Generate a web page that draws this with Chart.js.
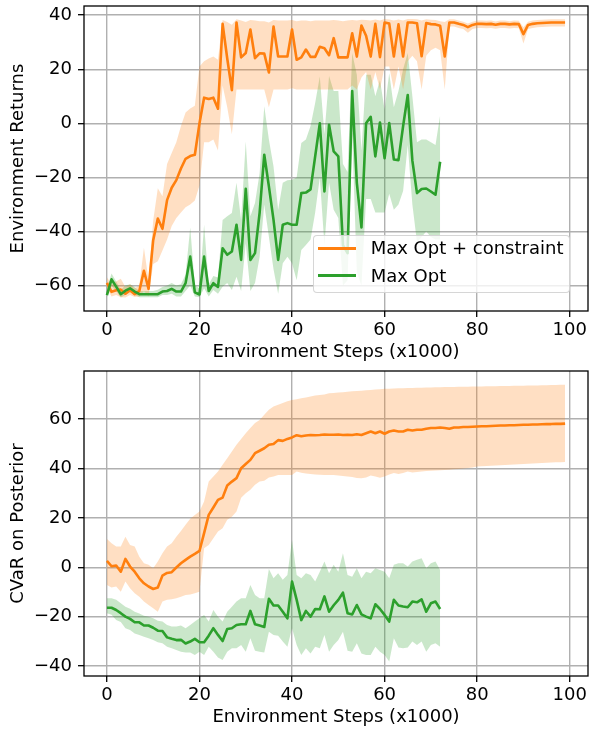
<!DOCTYPE html>
<html>
<head>
<meta charset="utf-8">
<script src="https://cdn.jsdelivr.net/npm/chart.js@4.4.1/dist/chart.umd.min.js"></script>
<style>
  html, body { margin: 0; padding: 0; background: #fff; }
  #wrap { position: relative; width: 589px; height: 732px; overflow: hidden;
          font-family: "DejaVu Sans", sans-serif; }
  .panel { position: absolute; left: 0; width: 589px; height: 366px; }
  .lg-frame { position: absolute; left: 312.5px; top: 235px; width: 257.5px; height: 57.5px;
              box-sizing: border-box; background: rgba(255,255,255,0.8);
              border: 1.4px solid rgba(204,204,204,0.8); border-radius: 4px; }
  .lg-line { position: absolute; left: 318.3px; width: 37.7px; height: 2.7px; }
  .lg-text { position: absolute; left: 370.7px; font-size: 18px; line-height: 22px;
             color: #000; white-space: nowrap; }
</style>
</head>
<body>
<div id="wrap">
  <div class="panel" style="top:0"><canvas id="returns" width="589" height="366"></canvas></div>
  <div class="panel" style="top:365px"><canvas id="cvar" width="589" height="366"></canvas></div>
  <div class="lg-frame"></div>
  <div class="lg-line" style="top:247px;background:#ff7f0e"></div>
  <div class="lg-text" style="top:237.3px">Max Opt + constraint</div>
  <div class="lg-line" style="top:274.4px;background:#2ca02c"></div>
  <div class="lg-text" style="top:264.7px">Max Opt</div>
</div>
<script>
// Training steps (x1000) at which each run was evaluated
const stepsK = [0,1,2,3,4,5,6,7,8,9,10,11,12,13,14,15,16,17,18,19,
  20,21,22,23,24,25,26,27,28,29,30,31,32,33,34,35,36,37,38,39,
  40,41,42,43,44,45,46,47,48,49,50,51,52,53,54,55,56,57,58,59,
  60,61,62,63,64,65,66,67,68,69,70,71,72,73,74,75,76,77,78,79,
  80,81,82,83,84,85,86,87,88,89,90,91,92,93,94,95,96,97,98,99];

const seriesNames = ['Max Opt + constraint', 'Max Opt'];
const xTicks = [0, 20, 40, 60, 80, 100];
const returnsTicks = [-60, -40, -20, 0, 20, 40];
const cvarTicks = [-40, -20, 0, 20, 40, 60];

// Environment returns: Max Opt + constraint
const retConstrMean = [-59, -62.3, -61.7, -61.5, -63, -61.7, -63.2, -62, -54.5, -61.2,
  -43.2, -35.2, -39, -28.4, -23.8, -21, -16.7, -13.1, -12.1, -11.6,
  0, 9.5, 9, 9.5, 5.4, 36.8, 24, 12.3, 37.3, 24.4,
  26, 34.7, 24.1, 25.9, 25.8, 18.8, 35.8, 24.7, 24.7, 24.7,
  34.7, 23.5, 24.4, 27.3, 24.6, 24.6, 28.3, 27.8, 25.2, 31.5,
  24.4, 24.4, 24.4, 33.3, 24.7, 36.2, 32.4, 24.7, 36.8, 24.5,
  37.3, 36.9, 24.7, 36.6, 24.7, 37.3, 37.3, 37, 24.8, 37.1,
  36.7, 36.6, 36.1, 24.7, 37.3, 37.3, 36.8, 36.4, 35.6, 36.4,
  36.8, 36.8, 36.7, 36.8, 36.5, 36.8, 36.8, 36.6, 36.8, 36.7,
  33, 36.4, 36.8, 37, 37.1, 37.2, 37.3, 37.3, 37.3, 37.3];
const retConstrHigh = [-57, -59.5, -58.5, -57.5, -60.5, -59.5, -61, -60, -46, -58,
  -36, -24, -27, -15, -11, -7, -1, 4, 5.5, 6.5,
  21, 23, 24, 24.7, 23.5, 38.2, 37.5, 36.5, 38.5, 38,
  37.5, 38.2, 38, 37.8, 37.8, 37.3, 38.2, 38, 38, 38,
  38.2, 37.8, 38, 38, 37.8, 38, 38, 38, 38, 38.2,
  38, 37.8, 38, 38.2, 38, 38.3, 38.2, 38, 38.4, 38,
  38.6, 38.4, 38, 38.4, 38, 38.6, 38.6, 38.5, 38, 38.5,
  38.3, 38.2, 37.8, 37.5, 38.5, 38.5, 38, 37.6, 36.9, 37.6,
  38, 38, 37.9, 38, 37.7, 38, 38, 37.8, 38, 37.9,
  35.5, 37.6, 38, 38.2, 38.3, 38.4, 38.5, 38.5, 38.5, 38.5];
const retConstrLow = [-61, -64, -63.5, -64.3, -64.4, -63.5, -64.2, -64, -62, -64,
  -52, -51, -47, -43, -38, -35, -33, -31, -30, -28.5,
  -23, -7, -7, -6, -10, 14, 6, -4, 12.5, 12.5,
  12.5, 12.5, 12.5, 12.5, 12.5, 6, 12.5, 12.5, 12.5, 12.5,
  13, 12.5, 12.5, 12.5, 12.5, 12.5, 12.5, 12.5, 12.5, 12.5,
  12.5, 12.5, 12.5, 14, 12.5, 17, 19, 12.5, 19, 12.5,
  21, 21, 12.5, 21, 12.5, 23, 25, 23, 12.5, 25,
  27, 28, 27, 12.5, 35.8, 35.8, 35.3, 34.9, 33.5, 34.9,
  35.3, 35.3, 35.2, 35.3, 35, 35.3, 35.3, 35.1, 35.3, 35.2,
  29.5, 34.9, 35.3, 35.5, 35.6, 35.7, 35.8, 35.8, 35.8, 35.8];

// Environment returns: Max Opt
const retMaxMean = [-63.5, -57.7, -60.4, -63.2, -61.9, -61, -62.2, -63.2, -63.2, -63.2,
  -63.2, -63.2, -62.2, -62, -61.2, -62.2, -62.2, -59.1, -49.3, -62.5,
  -63.3, -49.3, -62, -59.1, -60.5, -46.2, -48.6, -47.4, -37.5, -50.5,
  -24.2, -50.5, -48, -33, -11.6, -23.3, -35.7, -50.5, -37.5, -36.9,
  -37.5, -37.5, -25.8, -25.6, -24.4, -12.2, 0, -25.2, -0.5, -10.4,
  -12.2, -45, -48, 11.9, -22, -38.5, 0, 2.4, -12.2, 0.3,
  -12.9, 0.1, -13.4, -13.6, -1, 10.5, -13.8, -25.8, -24.3, -24.1,
  -25.2, -26.4, -14.2];
const retMaxHigh = [-61, -55.5, -58.5, -61.5, -60, -59.5, -60.5, -62, -62, -62,
  -62, -61.5, -60.5, -60, -59, -60, -59.5, -56, -38.5, -60,
  -61, -37.5, -59.5, -56.5, -57, -35.7, -34.4, -33.2, -22, -35.7,
  -6.7, -34.4, -29.5, -18.4, 6.3, -6, -16, -32, -22, -21,
  -20.9, -20, -7.3, -6, -1, 7.5, 17.3, -4, 17.5, 12,
  12, -15, -18, 26, 18, -10, 18, 18, 10, 16,
  5, 18.5, 6, 12, 20, 26, 10, -7, -6, -6,
  -7, -8, 3];
const retMaxLow = [-64.3, -60, -62, -64.4, -63.5, -62.5, -63.5, -64.3, -64.3, -64.3,
  -64.3, -64.3, -63.5, -63.5, -63, -64, -64, -62, -60, -64,
  -64.3, -61, -64, -61.6, -63, -60.4, -59, -61.6, -56.7, -62,
  -44.3, -62, -59, -49.3, -30, -41.9, -54, -63, -51.7, -49.3,
  -51.7, -58, -46.8, -45, -43, -33, -20, -45, -22, -32,
  -35, -60, -58, -4, -55, -60, -28, -28, -33, -33,
  -33, -26, -32, -30, -25, -8, -30, -44, -42, -40,
  -42, -43, -43];

// CVaR on posterior: Max Opt + constraint
const cvarConstrMean = [2.6, 0.4, 0.7, -1.8, 3.4, 0.3, -1.8, -4.5, -6.5, -7.8,
  -8.8, -8.2, -3.4, -2.3, -2, -0.1, 1.6, 3, 4.3, 5.4,
  6.6, 13.8, 21.2, 24.2, 27.3, 28.2, 33.1, 34.7, 36.1, 40.1,
  41.8, 43.5, 46.2, 47.2, 48.2, 49.6, 49.9, 51.5, 51.2, 52,
  52.6, 53.5, 53.1, 53.4, 53.6, 53.5, 53.6, 53.8, 53.7, 53.7,
  53.8, 53.6, 53.7, 53.6, 53.9, 53.6, 54.3, 55, 54.3, 55,
  54.1, 55, 55.4, 55, 55, 55.7, 55.4, 55.7, 55.7, 56.1,
  56.4, 56.4, 56.6, 56.4, 56.1, 56.6, 56.6, 56.8, 56.8, 56.9,
  57, 57.1, 57.1, 57.2, 57.3, 57.4, 57.4, 57.5, 57.5, 57.6,
  57.7, 57.7, 57.8, 57.8, 57.9, 58, 58, 58.1, 58.1, 58.2];
const cvarConstrHigh = [11.5, 9.7, 8.4, 8.4, 12.4, 9, 8.4, 4.3, 1.6, 1,
  -0.4, 2.3, 5.7, 8.4, 9.7, 12.4, 14.7, 17.2, 19.6, 21.2,
  22.6, 26.6, 34.7, 36.8, 38.8, 41.5, 44.2, 46.9, 49.6, 52,
  54.3, 56.4, 58.4, 59.7, 61.8, 63.8, 65.1, 65.8, 66.5, 67.2,
  67.8, 68.1, 68.5, 68.8, 69.2, 69.6, 69.8, 70, 70.5, 70.6,
  70.8, 70.9, 71.1, 71.3, 71.4, 71.5, 71.7, 71.8, 72, 72.1,
  72.3, 72.3, 72.4, 72.5, 72.5, 72.6, 72.6, 72.7, 72.7, 72.8,
  72.8, 72.9, 72.9, 73, 73, 73, 73.1, 73.1, 73.1, 73.2,
  73.2, 73.2, 73.3, 73.3, 73.3, 73.4, 73.4, 73.4, 73.5, 73.5,
  73.5, 73.6, 73.6, 73.6, 73.7, 73.7, 73.8, 73.8, 73.9, 73.9];
const cvarConstrLow = [-7.2, -8.2, -7.8, -9.9, -5.8, -8.5, -10.5, -11.9, -13.9, -15.3,
  -16.6, -18, -13.9, -13.2, -13, -12.6, -11.9, -11.2, -11, -10.5,
  -9.9, 7.7, 9, 11.8, 14.5, 15.8, 19.2, 20.5, 22.6, 28.2,
  30, 31.4, 33.4, 34.7, 35, 36.4, 36.8, 37.4, 37.4, 37.4,
  37.4, 38.8, 38.3, 38, 37.8, 37.6, 37.5, 37.4, 37.4, 37.4,
  37.2, 37, 36.8, 36.6, 36.2, 36.1, 36.4, 37.2, 36.8, 36.3,
  36.8, 37.6, 38.2, 37.8, 38.2, 38.8, 38.4, 38.6, 38.8, 39,
  39.1, 39.2, 39.3, 39.4, 39.5, 39.7, 39.8, 40, 40.2, 40.4,
  40.8, 40.9, 41, 41.1, 41.2, 41.3, 41.4, 41.5, 41.6, 41.7,
  41.8, 41.9, 42, 42.1, 42.2, 42.3, 42.4, 42.5, 42.5, 42.6];

// CVaR on posterior: Max Opt
const cvarMaxMean = [-16.4, -16.4, -17.3, -18.6, -20, -20.9, -22.3, -22.3, -23.6, -23.6,
  -24.5, -25.7, -25.8, -28.4, -29, -29.5, -29.4, -30.9, -30.1, -29,
  -30.4, -30.4, -27.7, -24.7, -27.4, -29.9, -25, -24.7, -23.4, -23.1,
  -23.1, -17.7, -23.1, -23.6, -24.2, -12.8, -15.5, -15.5, -18, -20.7,
  -5.8, -13.2, -21.4, -17.7, -20, -16.9, -17, -11.8, -18, -15.4,
  -13.2, -10.3, -18.6, -19.1, -15.3, -19.1, -20, -20.7, -15, -16.9,
  -19.3, -22, -13.2, -15.5, -15.9, -16.2, -13.9, -14.2, -13, -18,
  -14.6, -13.9, -16.9];
const cvarMaxHigh = [-12.6, -12.6, -13.2, -14.6, -16, -16.8, -18, -18.7, -19.6, -20,
  -20.7, -21.7, -22, -23.4, -24, -24, -23.6, -24.7, -23.4, -22,
  -20.7, -19.3, -22, -17.3, -20, -22, -18, -16, -13.9, -12.6,
  -12.6, -7.2, -11.2, -12.6, -12.6, -0.7, -4.5, -2.4, -5.1, -3.1,
  11.1, -3.1, -4.5, -2.4, -3.1, -5.8, -1.8, 2.3, -2.4, 1,
  -1.8, 5.7, -3.1, -3.8, -0.4, -4.5, -1.8, -2.4, -0.4, -1.1,
  -1.8, -4.5, 1, 1.6, 1.6, 0.3, 2.3, 3, 3.6, -0.4,
  1.6, 2.3, -1.1];
const cvarMaxLow = [-18.6, -19.2, -21.4, -22.2, -24.7, -25.4, -26.8, -27.4, -28.1, -28.8,
  -29.5, -30.4, -30.8, -32.2, -32.8, -33.5, -34.2, -34.5, -34.5, -35.5,
  -34.2, -35.5, -32.2, -34.2, -36.6, -37.6, -34.2, -32.8, -32.8, -31.5,
  -34.2, -28.8, -33.8, -34.2, -34.5, -26.1, -27.4, -27.7, -30.1, -32.2,
  -24.7, -31.5, -35.5, -32.8, -34.9, -32.2, -32.8, -27.4, -34.2, -31.5,
  -29.5, -26.1, -33.8, -34.2, -30.8, -34.9, -35.5, -35.5, -32.2, -34.2,
  -35.5, -38.2, -28.8, -32.5, -32.8, -32.5, -30.1, -31.5, -30.1, -34.2,
  -31.5, -30.8, -32.2];

const ORANGE = '#ff7f0e', GREEN = '#2ca02c';
const ORANGE_BAND = 'rgba(255,127,14,0.25)', GREEN_BAND = 'rgba(44,160,44,0.25)';
const FONT = '"DejaVu Sans", sans-serif';

Chart.defaults.font.family = FONT;
Chart.defaults.font.size = 18;
Chart.defaults.color = '#000';

const pts = ys => ys.map((y, i) => ({ x: stepsK[i], y }));
const minusFmt = v => (v < 0 ? '\u2212' + Math.abs(v) : String(v));

// Black box around the plotting area
const framePlugin = {
  id: 'frame',
  afterDatasetsDraw(chart) {
    const { ctx, chartArea: a } = chart;
    ctx.save();
    ctx.strokeStyle = '#000';
    ctx.lineWidth = 1.3;
    ctx.strokeRect(a.left, a.top, a.right - a.left, a.bottom - a.top);
    ctx.restore();
  }
};

// Fixed axis sizes, no extra room reserved for edge labels
const fitX = s => { s.height = 55; s.paddingLeft = 0; s.paddingRight = 0; };
const fitY = s => { s.width = 84; s.paddingTop = 0; s.paddingBottom = 0; };

function bandSets(high, low, color) {
  return [
    { data: pts(high), fill: '+1', backgroundColor: color, borderColor: 'rgba(0,0,0,0)',
      borderWidth: 0, pointRadius: 0, order: 5 },
    { data: pts(low), fill: false, borderColor: 'rgba(0,0,0,0)', borderWidth: 0,
      pointRadius: 0, order: 6 }
  ];
}

function lineSet(label, mean, color, order) {
  return { label, data: pts(mean), borderColor: color, borderWidth: 2.6, pointRadius: 0,
           fill: false, tension: 0, borderJoinStyle: 'round', order };
}

function makeChart(id, yLabel, yMin, yMax, yTicks, series) {
  return new Chart(document.getElementById(id), {
    type: 'line',
    data: {
      datasets: [
        lineSet(seriesNames[0], series[0].mean, ORANGE, 1),
        ...bandSets(series[0].high, series[0].low, ORANGE_BAND),
        lineSet(seriesNames[1], series[1].mean, GREEN, 0),
        ...bandSets(series[1].high, series[1].low, GREEN_BAND)
      ]
    },
    options: {
      responsive: false,
      animation: false,
      events: [],
      layout: { padding: { top: 6, right: 1, bottom: 0, left: 0 } },
      plugins: {
        legend: { display: false },
        tooltip: { enabled: false },
        filler: { drawTime: 'beforeDatasetsDraw', propagate: false }
      },
      scales: {
        x: {
          type: 'linear', bounds: 'data', min: -4.95, max: 103.95,
          afterBuildTicks: s => { s.ticks = xTicks.map(v => ({ value: v })); },
          afterFit: fitX,
          ticks: { padding: 3, callback: minusFmt, maxRotation: 0, autoSkip: false },
          grid: { color: '#b0b0b0', lineWidth: 1.4, tickLength: 6, tickColor: '#000', tickWidth: 1.3 },
          border: { display: false },
          title: { display: true, text: 'Environment Steps (x1000)', padding: { top: 0, bottom: 3 } }
        },
        y: {
          type: 'linear', bounds: 'data', min: yMin, max: yMax,
          afterBuildTicks: s => { s.ticks = yTicks.map(v => ({ value: v })); },
          afterFit: fitY,
          ticks: { padding: 6, callback: minusFmt, autoSkip: false },
          grid: { color: '#b0b0b0', lineWidth: 1.4, tickLength: 6, tickColor: '#000', tickWidth: 1.3 },
          border: { display: false },
          title: { display: true, text: yLabel, padding: { top: 8, bottom: 0 } }
        }
      }
    },
    plugins: [framePlugin]
  });
}

makeChart('returns', 'Environment Returns', -69.4, 43.4, returnsTicks, [
  { mean: retConstrMean, high: retConstrHigh, low: retConstrLow },
  { mean: retMaxMean, high: retMaxHigh, low: retMaxLow }
]);

makeChart('cvar', 'CVaR on Posterior', -44.05, 79.5, cvarTicks, [
  { mean: cvarConstrMean, high: cvarConstrHigh, low: cvarConstrLow },
  { mean: cvarMaxMean, high: cvarMaxHigh, low: cvarMaxLow }
]);
</script>
</body>
</html>
